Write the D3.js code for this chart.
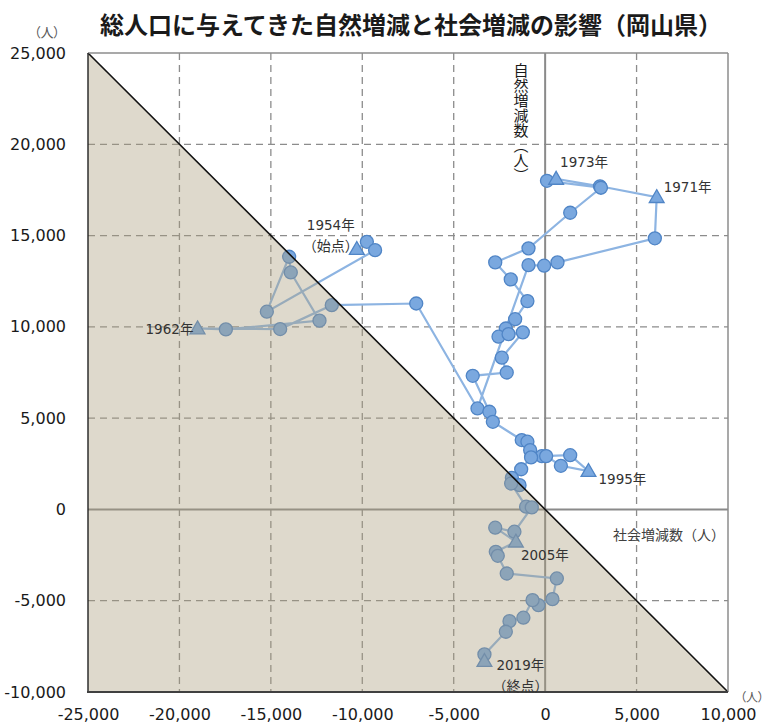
<!DOCTYPE html>
<html>
<head>
<meta charset="utf-8">
<script src="https://cdn.jsdelivr.net/npm/d3@7"></script>
<style>
  body { margin: 0; background: #fff; }
  svg { display: block; }
</style>
</head>
<body>
<svg id="chart" width="764" height="726"></svg>
<script>
// 社会増減数 (x) と 自然増減数 (y), 1954年 -> 2019年
const socialChange = [
  -10300, -9750, -9300, -15220, -14000, -13910, -12340, -17460, -19010, -14490,
  -11670, -7050, -3700, -910, -55, 675, 6000, 6100, 3000, 600,
  100, 3050, 1370, -910, -2730, -1880, -970, -1640, -2150, -2550,
  -2000, -1220, -2370, -2100, -3960, -3050, -2860, -1280, -970, -820,
  -180, 1370, 2370, 860, 55, -770, -1310, -1820, -1400, -1860,
  -1040, -730, -1680, -2730, -1600, -2700, -2590, -2100, 640, 400,
  -365, -690, -1190, -1950, -2150, -3320, -3320
];
const naturalChange = [
  14260, 14660, 14200, 10830, 13840, 12980, 10340, 9860, 9910, 9880,
  11190, 11280, 5530, 13380, 13350, 13530, 14850, 17100, 17700, 18100,
  18000, 17620, 16250, 14300, 13530, 12600, 11410, 10420, 9910, 9460,
  9600, 9700, 8310, 7500, 7320, 5350, 4800, 3800, 3710, 3250,
  2920, 2970, 2100, 2390, 2920, 2850, 2200, 1730, 1330, 1420,
  150, 110, -1220, -1000, -1770, -2320, -2540, -3510, -3780, -4910,
  -5240, -4970, -5930, -6120, -6700, -7940, -8310
];
// 三角マーカーの点 (index) と年
const markIndex = [0, 8, 17, 19, 42, 54, 66];
const markYear = ['1954年', '1962年', '1971年', '1973年', '1995年', '2005年', '2019年'];
const markNote = ['（始点）', '', '', '', '', '', '（終点）'];

const xTicks = [-25000, -20000, -15000, -10000, -5000, 0, 5000, 10000];
const yTicks = [-10000, -5000, 0, 5000, 10000, 15000, 20000, 25000];

const titleText = '総人口に与えてきた自然増減と社会増減の影響（岡山県）';
const xTitle = '社会増減数（人）';
const yTitle = '自然増減数（人）';
const unitText = '（人）';

(function() {
  const svg = d3.select('#chart');
  const pl = 88, pr = 728, pt = 53, pb = 692;
  const cjk = '"Noto Sans CJK JP", "Noto Sans", sans-serif';
  const num = '"DejaVu Sans", "Noto Sans CJK JP", sans-serif';

  const x = d3.scaleLinear().domain([-25000, 10000]).range([pl, pr]);
  const y = d3.scaleLinear().domain([-10000, 25000]).range([pb, pt]);
  const fmt = v => d3.format(',')(v).replace('\u2212', '-');

  const points = socialChange.map((s, i) => ({s, n: naturalChange[i]}));

  // title
  svg.append('text')
    .attr('x', 411).attr('y', 34)
    .attr('text-anchor', 'middle')
    .style('font-family', cjk).style('font-weight', 'bold').style('font-size', '24px')
    .attr('fill', '#1a1a1a')
    .text(titleText);

  // unit labels
  svg.append('text')
    .attr('x', 34).attr('y', 37)
    .style('font-family', cjk).style('font-size', '13px').style('font-feature-settings', '"palt"')
    .attr('fill', '#595959')
    .text(unitText);
  svg.append('text')
    .attr('x', 740).attr('y', 702)
    .style('font-family', cjk).style('font-size', '12px').style('font-feature-settings', '"palt"')
    .attr('fill', '#595959')
    .text(unitText);

  // grid
  const grid = svg.append('g');
  grid.selectAll('line.gx')
    .data(xTicks.filter(d => d !== 0 && d !== -25000 && d !== 10000))
    .enter().append('line')
    .attr('x1', d => x(d)).attr('x2', d => x(d))
    .attr('y1', pt).attr('y2', pb)
    .attr('stroke', '#8c8c8c').attr('stroke-width', 1.3).attr('stroke-dasharray', '7,5');
  grid.selectAll('line.gy')
    .data(yTicks.filter(d => d !== 0 && d !== -10000 && d !== 25000))
    .enter().append('line')
    .attr('y1', d => y(d)).attr('y2', d => y(d))
    .attr('x1', pl).attr('x2', pr)
    .attr('stroke', '#8c8c8c').attr('stroke-width', 1.3).attr('stroke-dasharray', '7,5');

  // zero axes
  svg.append('line')
    .attr('x1', x(0)).attr('x2', x(0)).attr('y1', pt).attr('y2', pb)
    .attr('stroke', '#8a8a8a').attr('stroke-width', 2);
  svg.append('line')
    .attr('x1', pl).attr('x2', pr).attr('y1', y(0)).attr('y2', y(0))
    .attr('stroke', '#8a8a8a').attr('stroke-width', 2);

  // series
  svg.append('path')
    .datum(points)
    .attr('fill', 'none')
    .attr('stroke', '#8db4e2')
    .attr('stroke-width', 2.2)
    .attr('d', d3.line().x(d => x(d.s)).y(d => y(d.n)));

  const isMark = i => markIndex.indexOf(i) >= 0;
  svg.selectAll('circle.pt')
    .data(points.filter((d, i) => !isMark(i)))
    .enter().append('circle')
    .attr('cx', d => x(d.s)).attr('cy', d => y(d.n)).attr('r', 6.5)
    .attr('fill', '#7aa8df').attr('stroke', '#5085c6').attr('stroke-width', 1.3);

  svg.selectAll('path.tri')
    .data(markIndex.map(i => points[i]))
    .enter().append('path')
    .attr('transform', d => `translate(${x(d.s)},${y(d.n) + 1})`)
    .attr('d', d3.symbol(d3.symbolTriangle).size(95))
    .attr('fill', '#7aa8df').attr('stroke', '#5085c6').attr('stroke-width', 1.3);

  // shaded region where total change < 0
  svg.append('path')
    .attr('d', d3.line()([[x(-25000), y(25000)], [x(-25000), y(-10000)], [x(10000), y(-10000)]]) + 'Z')
    .attr('fill', 'rgb(170,157,124)').attr('fill-opacity', 0.39);
  svg.append('line')
    .attr('x1', x(-25000)).attr('y1', y(25000)).attr('x2', x(10000)).attr('y2', y(-10000))
    .attr('stroke', '#111').attr('stroke-width', 1.6);

  // frame
  svg.append('line').attr('x1', pl).attr('x2', pr).attr('y1', pt).attr('y2', pt)
    .attr('stroke', '#8c8c8c').attr('stroke-width', 1.5);
  svg.append('line').attr('x1', pr).attr('x2', pr).attr('y1', pt).attr('y2', pb)
    .attr('stroke', '#8c8c8c').attr('stroke-width', 1.5);
  svg.append('line').attr('x1', pl).attr('x2', pl).attr('y1', pt).attr('y2', pb)
    .attr('stroke', '#222').attr('stroke-width', 1.4);
  svg.append('line').attr('x1', pl - 1).attr('x2', pr).attr('y1', pb).attr('y2', pb)
    .attr('stroke', '#404040').attr('stroke-width', 2);

  // axes (labels only)
  const yAxis = svg.append('g')
    .attr('transform', `translate(${pl},0)`)
    .call(d3.axisLeft(y).tickValues(yTicks).tickFormat(fmt).tickSize(0).tickPadding(22));
  const xAxis = svg.append('g')
    .attr('transform', `translate(0,${pb})`)
    .call(d3.axisBottom(x).tickValues(xTicks).tickFormat(fmt).tickSize(0).tickPadding(17));
  [yAxis, xAxis].forEach(g => {
    g.select('.domain').remove();
    g.selectAll('text').style('font-family', num).style('font-size', '16px').attr('fill', '#1a1a1a');
  });

  // axis titles
  svg.append('text')
    .attr('x', 521).attr('y', 63)
    .style('writing-mode', 'vertical-rl')
    .style('font-family', cjk).style('font-size', '15px').attr('fill', '#1a1a1a')
    .text(yTitle);
  svg.append('text')
    .attr('x', 613).attr('y', 540)
    .style('font-family', cjk).style('font-size', '14px').attr('fill', '#404040')
    .text(xTitle);

  // year labels next to triangles
  const labelPos = {
    '1954年': [-50, -19, -54, 2],
    '1962年': [-52, 5],
    '1971年': [7, -5],
    '1973年': [4, -12],
    '1995年': [10, 13],
    '2005年': [5, 18],
    '2019年': [12, 9, 8, 30]
  };
  markIndex.forEach((idx, k) => {
    const p = points[idx];
    const off = labelPos[markYear[k]];
    svg.append('text')
      .attr('x', x(p.s) + off[0]).attr('y', y(p.n) + off[1])
      .style('font-family', num).style('font-size', '13.5px').attr('fill', '#333')
      .text(markYear[k]);
    if (markNote[k]) {
      svg.append('text')
        .attr('x', x(p.s) + off[2]).attr('y', y(p.n) + off[3])
        .style('font-family', cjk).style('font-size', '14px').attr('fill', '#333')
        .text(markNote[k]);
    }
  });
})();
</script>
</body>
</html>
